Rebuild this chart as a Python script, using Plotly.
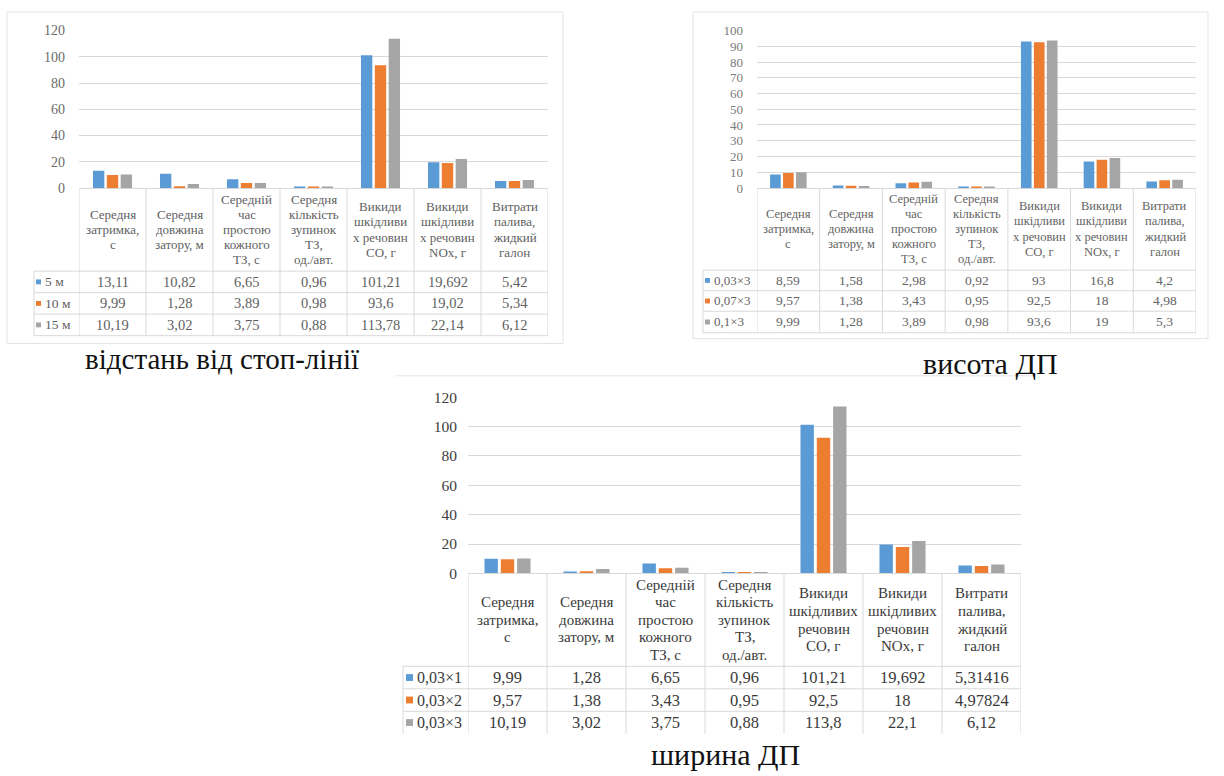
import plotly.graph_objects as go

W, H = 1224, 776

# Series colours (blue / orange / grey)
COLORS = ["#5B9BD5", "#ED7D31", "#A5A5A5"]
GRID = "#D9D9D9"
SERIF = "Liberation Serif"

# Category captions, "\n" marks line breaks inside a table header cell
CATS_NARROW = [
    "Середня\nзатримка,\nс",
    "Середня\nдовжина\nзатору, м",
    "Середній\nчас\nпростою\nкожного\nТЗ, с",
    "Середня\nкількість\nзупинок\nТЗ,\nод./авт.",
    "Викиди\nшкідливи\nх речовин\nCO, г",
    "Викиди\nшкідливи\nх речовин\nNOx, г",
    "Витрати\nпалива,\nжидкий\nгалон",
]
CATS_WIDE = [
    "Середня\nзатримка,\nс",
    "Середня\nдовжина\nзатору, м",
    "Середній\nчас\nпростою\nкожного\nТЗ, с",
    "Середня\nкількість\nзупинок\nТЗ,\nод./авт.",
    "Викиди\nшкідливих\nречовин\nCO, г",
    "Викиди\nшкідливих\nречовин\nNOx, г",
    "Витрати\nпалива,\nжидкий\nгалон",
]

# Distance from the stop line
DIST_LABELS = ["5 м", "10 м", "15 м"]
DIST_5 = [13.11, 10.82, 6.65, 0.96, 101.21, 19.692, 5.42]
DIST_10 = [9.99, 1.28, 3.89, 0.98, 93.6, 19.02, 5.34]
DIST_15 = [10.19, 3.02, 3.75, 0.88, 113.78, 22.14, 6.12]

# Speed hump height
HEIGHT_LABELS = ["0,03×3", "0,07×3", "0,1×3"]
HEIGHT_A = [8.59, 1.58, 2.98, 0.92, 93, 16.8, 4.2]
HEIGHT_B = [9.57, 1.38, 3.43, 0.95, 92.5, 18, 4.98]
HEIGHT_C = [9.99, 1.28, 3.89, 0.98, 93.6, 19, 5.3]

# Speed hump width
WIDTH_LABELS = ["0,03×1", "0,03×2", "0,03×3"]
WIDTH_A = [9.99, 1.28, 6.65, 0.96, 101.21, 19.692, 5.31416]
WIDTH_B = [9.57, 1.38, 3.43, 0.95, 92.5, 18, 4.97824]
WIDTH_C = [10.19, 3.02, 3.75, 0.88, 113.8, 22.1, 6.12]


def px(x):
    return x / W


def py(y):
    return 1 - y / H


def fmt(v):
    return str(v).replace(".", ",")


fig = go.Figure()
shapes = []
annotations = []


def add_panel(n, cats, labels, series, cfg):
    xa = "x" if n == 1 else f"x{n}"
    ya = "y" if n == 1 else f"y{n}"
    for lab, vals, col in zip(labels, series, COLORS):
        fig.add_trace(go.Bar(x=cats, y=vals, name=lab, marker_color=col,
                             marker_line_width=0, xaxis=xa, yaxis=ya,
                             hoverinfo="skip"))
    sfx = "" if n == 1 else str(n)
    x0, x1 = cfg["x"]
    ytop, yzero = cfg["y"]
    fig.layout["xaxis" + sfx] = dict(
        domain=[px(x0), px(x1)], anchor=ya, type="category",
        range=[-0.5, len(cats) - 0.5], showticklabels=False, showgrid=False,
        showline=True, linecolor=GRID, linewidth=1, ticks="", fixedrange=True)
    fig.layout["yaxis" + sfx] = dict(
        domain=[py(yzero), py(ytop)], anchor=xa, range=[0, cfg["ymax"]],
        dtick=cfg["dtick"], showgrid=True, gridcolor=GRID, gridwidth=1,
        zeroline=False, showline=False, ticks="", ticklabelstandoff=cfg["stand"],
        tickfont=dict(family=SERIF, size=cfg["tick_size"], color=cfg["tick_color"]),
        fixedrange=True)

    hb = cfg["header_bottom"]
    rows = cfg["row_lines"]
    bottom = cfg["bottom"]
    left = cfg["label_left"]

    # table grid: column separators follow the category axis
    for i in range(len(cats) + 1):
        shapes.append(dict(type="line", xref=xa, yref="paper",
                           x0=i - 0.5, x1=i - 0.5, y0=py(yzero), y1=py(bottom),
                           line=dict(color=GRID, width=1)))
    shapes.append(dict(type="line", xref="paper", yref="paper",
                       x0=px(left), x1=px(left), y0=py(hb), y1=py(bottom),
                       line=dict(color=GRID, width=1)))
    for yl in [hb] + rows:
        shapes.append(dict(type="line", xref="paper", yref="paper",
                           x0=px(left), x1=px(x1), y0=py(yl), y1=py(yl),
                           line=dict(color=GRID, width=1)))

    # header captions
    hc = (yzero + hb) / 2
    sp = cfg["head_sp"]
    for cat in cats:
        lines = cat.split("\n")
        start = hc - sp * (len(lines) - 1) / 2
        for k, ln in enumerate(lines):
            annotations.append(dict(
                xref=xa, yref="paper", x=cat, y=py(start + k * sp), text=ln,
                showarrow=False, xanchor="center", yanchor="middle",
                font=dict(family=SERIF, size=cfg["head_size"], color=cfg["text_color"])))

    # value rows with legend keys
    edges = [hb] + rows
    if len(edges) < 4:
        edges = edges + [bottom]
    for r, (lab, vals, col) in enumerate(zip(labels, series, COLORS)):
        yc = (edges[r] + edges[r + 1]) / 2
        sq = cfg["sq"]
        sx = left + cfg["sq_dx"]
        shapes.append(dict(type="rect", xref="paper", yref="paper",
                           x0=px(sx), x1=px(sx + sq), y0=py(yc - sq / 2), y1=py(yc + sq / 2),
                           fillcolor=col, line=dict(width=0)))
        annotations.append(dict(
            xref="paper", yref="paper", x=px(sx + sq + 1.5), y=py(yc), text=lab,
            showarrow=False, xanchor="left", yanchor="middle",
            font=dict(family=SERIF, size=cfg["label_size"], color=cfg["text_color"])))
        for cat, v in zip(cats, vals):
            annotations.append(dict(
                xref=xa, yref="paper", x=cat, y=py(yc), text=fmt(v),
                showarrow=False, xanchor="center", yanchor="middle",
                font=dict(family=SERIF, size=cfg["val_size"], color=cfg["text_color"])))

    tx, ty = cfg["title_pos"]
    annotations.append(dict(
        xref="paper", yref="paper", x=px(tx), y=py(ty), text=cfg["title"],
        showarrow=False, xanchor="center", yanchor="middle",
        font=dict(family=SERIF, size=cfg["title_size"], color="#111111")))


add_panel(1, CATS_NARROW, DIST_LABELS, [DIST_5, DIST_10, DIST_15], dict(
    x=(79, 548), y=(22, 183), ymax=120, dtick=20, stand=13,
    tick_size=14, tick_color="#6b6b6b",
    header_bottom=268, row_lines=[290, 312, 334], bottom=334, label_left=34,
    head_sp=15.5, head_size=13, val_size=14.5, label_size=13.5,
    text_color="#5f5f5f", sq=5, sq_dx=2,
    title="відстань від стоп-лінії", title_pos=(222, 358), title_size=29))

add_panel(2, CATS_NARROW, HEIGHT_LABELS, [HEIGHT_A, HEIGHT_B, HEIGHT_C], dict(
    x=(757, 1196), y=(22, 183), ymax=100, dtick=10, stand=13,
    tick_size=13, tick_color="#7a7a7a",
    header_bottom=267, row_lines=[288, 309, 331], bottom=331, label_left=703,
    head_sp=15.5, head_size=12.5, val_size=13.5, label_size=13,
    text_color="#646464", sq=5, sq_dx=2,
    title="висота ДП", title_pos=(990, 362), title_size=30))

add_panel(3, CATS_WIDE, WIDTH_LABELS, [WIDTH_A, WIDTH_B, WIDTH_C], dict(
    x=(468, 1021), y=(397, 577), ymax=120, dtick=20, stand=10,
    tick_size=15.5, tick_color="#404040",
    header_bottom=672, row_lines=[695, 718], bottom=741, label_left=403,
    head_sp=18, head_size=15, val_size=16.5, label_size=16,
    text_color="#3a3a3a", sq=7, sq_dx=3,
    title="ширина ДП", title_pos=(725, 762), title_size=30))

# chart frames
shapes.append(dict(type="rect", xref="paper", yref="paper",
                   x0=px(7), x1=px(563), y0=py(342), y1=py(3),
                   line=dict(color="#E3E3E3", width=1)))
shapes.append(dict(type="rect", xref="paper", yref="paper",
                   x0=px(693), x1=px(1208), y0=py(337), y1=py(3),
                   line=dict(color="#E3E3E3", width=1)))
shapes.append(dict(type="line", xref="paper", yref="paper",
                   x0=px(395), x1=px(1035), y0=py(375), y1=py(375),
                   line=dict(color="#E6E6E6", width=1)))

fig.update_layout(
    width=W, height=H, margin=dict(l=0, r=0, t=0, b=0),
    paper_bgcolor="white", plot_bgcolor="white",
    barmode="group", bargap=0.38, bargroupgap=0.18,
    showlegend=False, shapes=shapes, annotations=annotations,
)

fig.write_html("out.html", config={"displayModeBar": False})
